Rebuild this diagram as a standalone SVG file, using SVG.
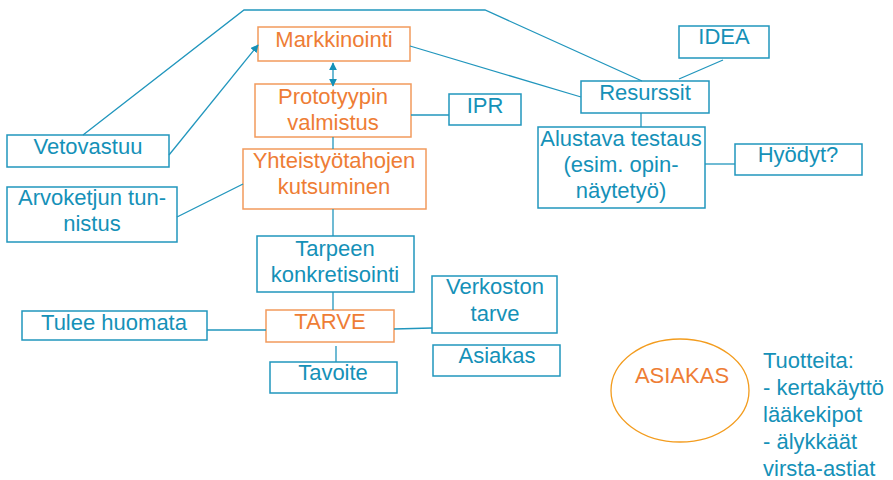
<svg xmlns="http://www.w3.org/2000/svg" width="893" height="480" viewBox="0 0 893 480">
<style>
text{font-family:"Liberation Sans",Arial,sans-serif;font-size:22px;text-anchor:middle}
.b rect{fill:#fff;stroke:#2196bd;stroke-width:1.5}
.b text{fill:#1591b8}
.o rect{fill:#fff;stroke:#f29a5c;stroke-width:1.5}
.o text{fill:#ee7d35}
.c line,.c polyline{stroke:#2196bd;stroke-width:1.3;fill:none}
</style>
<defs>
<marker id="ah" viewBox="0 0 10 10" refX="9" refY="5" markerWidth="8" markerHeight="8" markerUnits="userSpaceOnUse" orient="auto-start-reverse">
<path d="M0,0 L10,5 L0,10 z" fill="#1591b8"/>
</marker>
</defs>
<g id="markkinointi" class="o"><rect x="258" y="27" width="152" height="34"/><text x="334" y="47">Markkinointi</text></g>
<g id="prototyypin" class="o"><rect x="255" y="84" width="156" height="53"/><text x="333" y="104">Prototyypin</text><text x="333" y="130">valmistus</text></g>
<g id="yhteistyo" class="o"><rect x="243" y="149" width="183" height="60"/><text x="334" y="168">Yhteistyötahojen</text><text x="334" y="194">kutsuminen</text></g>
<g id="vetovastuu" class="b"><rect x="7" y="135" width="162" height="32"/><text x="88" y="154">Vetovastuu</text></g>
<g id="arvoketjun" class="b"><rect x="7" y="187" width="170" height="55"/><text x="92" y="205">Arvoketjun tun-</text><text x="92" y="231">nistus</text></g>
<g id="ipr" class="b"><rect x="449" y="94" width="72" height="31"/><text x="485" y="113">IPR</text></g>
<g id="idea" class="b"><rect x="679" y="26" width="90" height="32"/><text x="724" y="44">IDEA</text></g>
<g id="resurssit" class="b"><rect x="581" y="81" width="128" height="32"/><text x="645" y="100">Resurssit</text></g>
<g id="alustava" class="b"><rect x="538" y="127" width="167" height="81"/><text x="621" y="146">Alustava testaus</text><text x="621" y="172">(esim. opin-</text><text x="621" y="198">näytetyö)</text></g>
<g id="hyodyt" class="b"><rect x="735" y="144" width="127" height="31"/><text x="798" y="162">Hyödyt?</text></g>
<g id="tarpeen" class="b"><rect x="257" y="236" width="157" height="56"/><text x="335" y="256">Tarpeen</text><text x="335" y="282">konkretisointi</text></g>
<g id="tarve" class="o"><rect x="266" y="310" width="128" height="32"/><text x="330" y="329">TARVE</text></g>
<g id="tavoite" class="b"><rect x="270" y="362" width="127" height="31"/><text x="333" y="380">Tavoite</text></g>
<g id="tulee" class="b"><rect x="22" y="311" width="185" height="29"/><text x="114" y="330">Tulee huomata</text></g>
<g id="verkoston" class="b"><rect x="432" y="276" width="125" height="57"/><text x="495" y="294">Verkoston</text><text x="495" y="321">tarve</text></g>
<g id="asiakas-box" class="b"><rect x="433" y="345" width="127" height="31"/><text x="497" y="363">Asiakas</text></g>
<g id="asiakas-ellipse"><ellipse cx="680" cy="390.5" rx="69" ry="51.5" fill="none" stroke="#f39c1e" stroke-width="1.3"/><text x="682" y="383" fill="#ee7d35">ASIAKAS</text></g>
<g id="tuotteita"><text x="763" y="368" fill="#1591b8" style="text-anchor:start">Tuotteita:</text><text x="763" y="395" fill="#1591b8" style="text-anchor:start">- kertakäyttö</text><text x="763" y="422" fill="#1591b8" style="text-anchor:start">lääkekipot</text><text x="763" y="449" fill="#1591b8" style="text-anchor:start">- älykkäät</text><text x="763" y="476" fill="#1591b8" style="text-anchor:start">virsta-astiat</text></g>
<g class="c" id="connectors">
<polyline points="83,135 244,10 485,10 642,81"/>
<line x1="169" y1="155" x2="258" y2="45" marker-end="url(#ah)"/>
<line x1="333" y1="63" x2="333" y2="86" marker-start="url(#ah)" marker-end="url(#ah)"/>
<line x1="410" y1="46" x2="581" y2="97"/>
<line x1="411" y1="115" x2="449" y2="115"/>
<line x1="333" y1="137" x2="333" y2="149"/>
<line x1="177" y1="217" x2="243" y2="184"/>
<line x1="333" y1="209" x2="333" y2="236"/>
<line x1="723" y1="60" x2="679" y2="79"/>
<line x1="641" y1="113" x2="641" y2="127"/>
<line x1="705" y1="164" x2="735" y2="164"/>
<line x1="333" y1="292" x2="333" y2="310"/>
<line x1="207" y1="330" x2="266" y2="330"/>
<line x1="394" y1="329" x2="432" y2="328"/>
<line x1="336" y1="346" x2="336" y2="362"/>
</g>
</svg>
